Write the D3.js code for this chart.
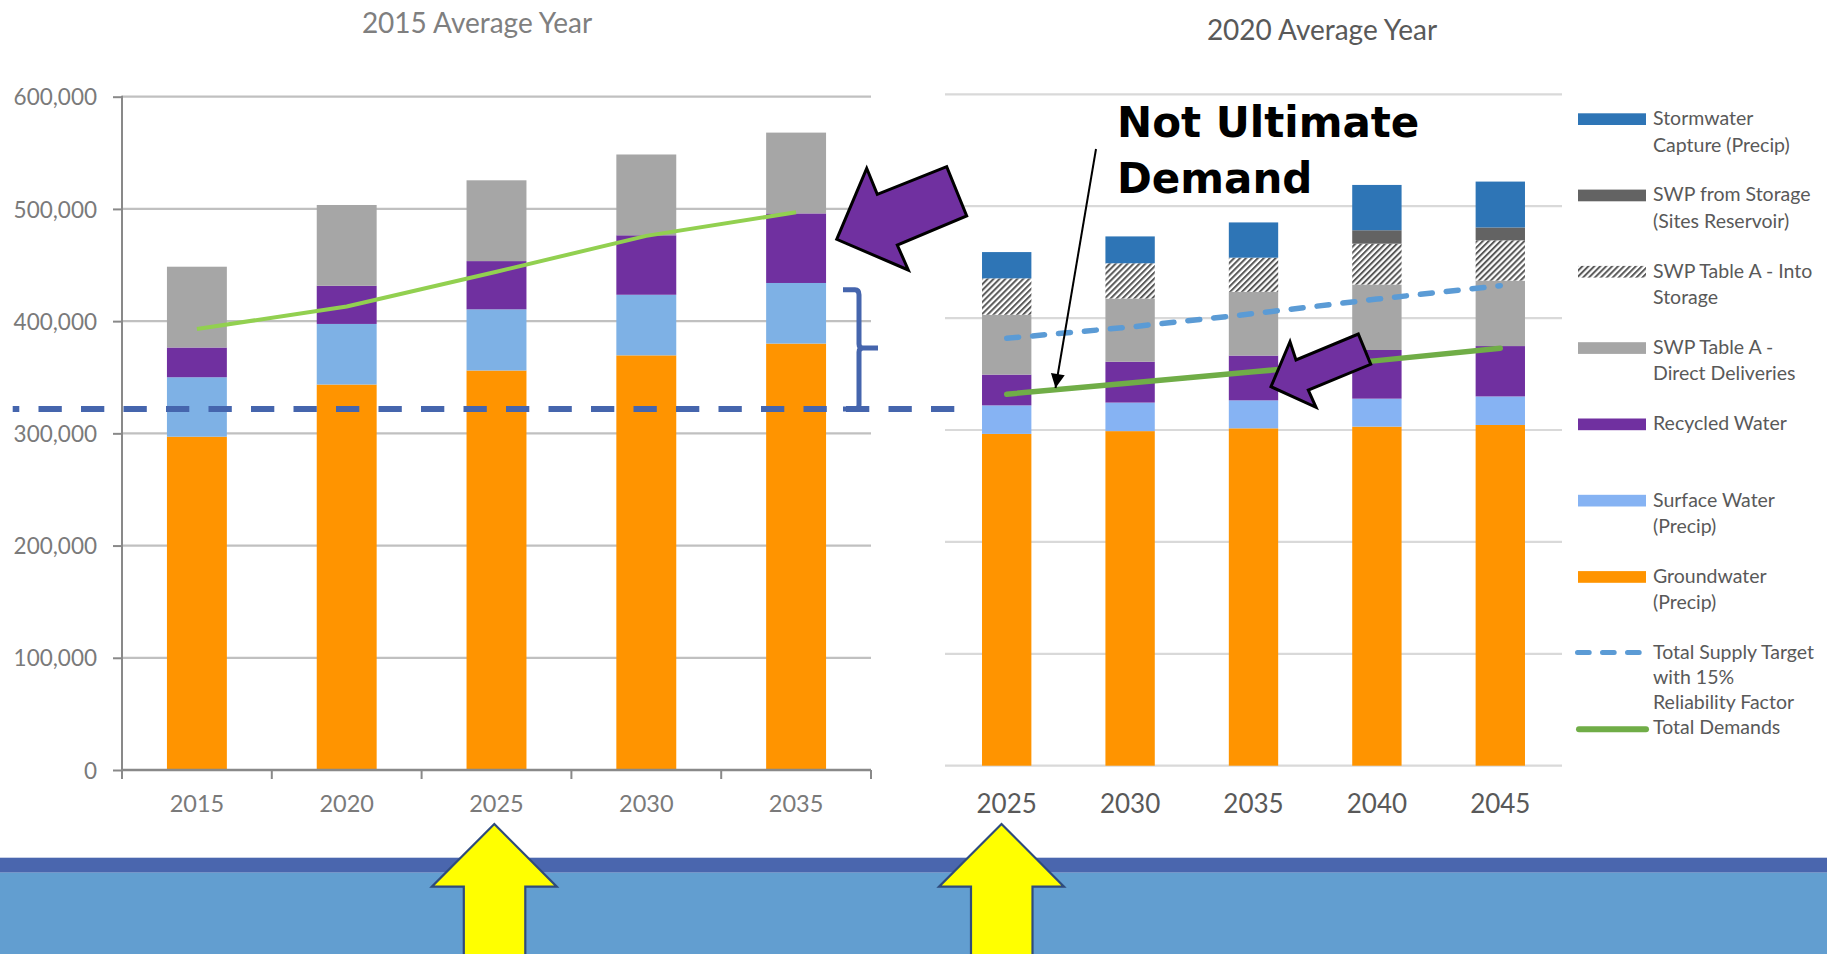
<!DOCTYPE html>
<html>
<head>
<meta charset="utf-8">
<script src="https://cdn.jsdelivr.net/npm/d3@7"></script>
<style>
  html, body { margin: 0; padding: 0; background: #ffffff; }
  svg { display: block; }
</style>
</head>
<body>
<svg id="chart" width="1827" height="954"></svg>
<script>
// ---------------- DATA ----------------
const years2015 = ["2015", "2020", "2025", "2030", "2035"];
const L_groundwater = [297000, 343500, 356000, 369500, 380000];
const L_surface     = [53000, 54000, 54500, 54000, 54000];
const L_recycled    = [26500, 34000, 43000, 53000, 62000];
const L_swpDirect   = [72000, 72000, 72000, 72000, 72000];
const L_demand      = [393000, 413000, 444000, 476000, 497000];
const L_reference   = 321600;   // dashed reference level

const years2020 = ["2025", "2030", "2035", "2040", "2045"];
const R_groundwater  = [296500, 299000, 301500, 303000, 304500];
const R_surface      = [25500, 25500, 25000, 25000, 25500];
const R_recycled     = [27500, 36500, 40000, 43500, 45000];
const R_swpDirect    = [53500, 56500, 57000, 58500, 58500];
const R_intoStorage  = [32500, 31500, 30500, 36500, 36000];
const R_fromStorage  = [0, 0, 0, 12000, 11500];
const R_stormwater   = [23500, 24000, 31500, 40500, 41000];
const R_supplyTarget = [382000, 392000, 404000, 417000, 429000];
const R_demand       = [332000, 342000, 352000, 362000, 373000];

const yTicks = [0, 100000, 200000, 300000, 400000, 500000, 600000];

const titleLeft = "2015 Average Year";
const titleRight = "2020 Average Year";
const noteLines = ["Not Ultimate", "Demand"];

const legendItems = [
  { lines: ["Stormwater", "Capture (Precip)"], type: "rect", key: "storm" },
  { lines: ["SWP from Storage", "(Sites Reservoir)"], type: "rect", key: "from" },
  { lines: ["SWP Table A - Into", "Storage"], type: "rect", key: "into" },
  { lines: ["SWP Table A -", "Direct Deliveries"], type: "rect", key: "direct" },
  { lines: ["Recycled Water"], type: "rect", key: "recycled" },
  { lines: ["Surface Water", "(Precip)"], type: "rect", key: "surface" },
  { lines: ["Groundwater", "(Precip)"], type: "rect", key: "ground" },
  { lines: ["Total Supply Target", "with 15%", "Reliability Factor"], type: "dash", key: "target" },
  { lines: ["Total Demands"], type: "line", key: "demand" }
];

// ---------------- STYLES ----------------
const colors = {
  ground: "#FF9400",
  surfaceL: "#7EB1E5",
  surface: "#86B3F3",
  recycled: "#7030A0",
  direct: "#A6A6A6",
  into: "url(#hatch)",
  from: "#636363",
  storm: "#2E75B6",
  demandL: "#92D050",
  demand: "#70AD47",
  target: "#5B9BD5"
};

const svg = d3.select("#chart");
const defs = svg.append("defs");
const pat = defs.append("pattern").attr("id", "hatch")
  .attr("width", 4.2).attr("height", 4.2)
  .attr("patternUnits", "userSpaceOnUse")
  .attr("patternTransform", "rotate(45)");
pat.append("rect").attr("width", 4.2).attr("height", 4.2).attr("fill", "#ffffff");
pat.append("line").attr("x1", 1).attr("y1", 0).attr("x2", 1).attr("y2", 4.2)
  .attr("stroke", "#595959").attr("stroke-width", 2);

defs.append("marker").attr("id", "blackHead")
  .attr("viewBox", "0 0 10 10").attr("refX", 10).attr("refY", 5)
  .attr("markerWidth", 8).attr("markerHeight", 7).attr("markerUnits", "strokeWidth")
  .attr("orient", "auto")
  .append("path").attr("d", "M0,0 L10,5 L0,10 Z").attr("fill", "#000");

const fontLeft = "Lato, 'Open Sans', sans-serif";
const fontHuman = "Lato, 'Open Sans', sans-serif";

// ---------------- LEFT CHART ----------------
const xL = d3.scaleBand().domain(years2015).range([122, 871]).paddingInner(0.6).paddingOuter(0.3);
const yL = d3.scaleLinear().domain([0, 600000]).range([770, 96.7]);

const gL = svg.append("g");
gL.selectAll("line.grid").data(yTicks.filter(d => d > 0)).join("line")
  .attr("x1", xL.range()[0]).attr("x2", xL.range()[1])
  .attr("y1", d => yL(d)).attr("y2", d => yL(d))
  .attr("stroke", "#C0C0C0").attr("stroke-width", 2.2);

const rowsL = years2015.map((y, i) => ({ year: y, ground: L_groundwater[i], surfaceL: L_surface[i], recycled: L_recycled[i], direct: L_swpDirect[i] }));
const stackL = d3.stack().keys(["ground", "surfaceL", "recycled", "direct"])(rowsL);
gL.selectAll("g.layer").data(stackL).join("g")
  .attr("fill", d => colors[d.key])
  .selectAll("rect").data(d => d).join("rect")
  .attr("x", d => xL(d.data.year)).attr("width", xL.bandwidth())
  .attr("y", d => yL(d[1])).attr("height", d => yL(d[0]) - yL(d[1]));

// y axis
const axL = gL.append("g").attr("transform", `translate(${xL.range()[0]},0)`)
  .call(d3.axisLeft(yL).tickValues(yTicks).tickFormat(d3.format(",")).tickSize(9).tickPadding(16));
axL.select(".domain").remove();
axL.selectAll(".tick line").attr("stroke", "#898989").attr("stroke-width", 2);
axL.selectAll(".tick text").attr("fill", "#7A7A7A").style("font-family", fontLeft).style("font-size", "22.5px").attr("dy", "0.36em");
gL.append("line").attr("x1", xL.range()[0]).attr("x2", xL.range()[0])
  .attr("y1", yL(600000) - 1).attr("y2", yL(0) + 9).attr("stroke", "#898989").attr("stroke-width", 2);

// x axis
gL.append("line").attr("x1", xL.range()[0]).attr("x2", xL.range()[1])
  .attr("y1", yL(0)).attr("y2", yL(0)).attr("stroke", "#898989").attr("stroke-width", 2.6);
gL.selectAll("line.xt").data(d3.range(years2015.length + 1)).join("line")
  .attr("x1", i => xL.range()[0] + i * xL.step()).attr("x2", i => xL.range()[0] + i * xL.step())
  .attr("y1", yL(0)).attr("y2", yL(0) + 9).attr("stroke", "#898989").attr("stroke-width", 2);
gL.selectAll("text.xl").data(years2015).join("text")
  .attr("x", d => xL(d) + xL.bandwidth() / 2).attr("y", 811.5)
  .attr("text-anchor", "middle").attr("fill", "#7A7A7A")
  .style("font-family", fontLeft).style("font-size", "23.5px").text(d => d);

// demand line
gL.append("path").datum(L_demand)
  .attr("fill", "none").attr("stroke", colors.demandL).attr("stroke-width", 4)
  .attr("d", d3.line().x((d, i) => xL(years2015[i]) + xL.bandwidth() / 2).y(d => yL(d)));

// title
svg.append("text").attr("x", 477).attr("y", 33).attr("text-anchor", "middle")
  .attr("fill", "#7F7F7F").style("font-family", fontLeft).style("font-size", "28px").text(titleLeft);

// ---------------- RIGHT CHART ----------------
const xR = d3.scaleBand().domain(years2020).range([945, 1562]).paddingInner(0.6).paddingOuter(0.3);
const yR = d3.scaleLinear().domain([0, 600000]).range([765.7, 94.3]);
const gR = svg.append("g");
gR.selectAll("line.grid").data(yTicks).join("line")
  .attr("x1", xR.range()[0]).attr("x2", xR.range()[1])
  .attr("y1", d => yR(d)).attr("y2", d => yR(d))
  .attr("stroke", "#D9D9D9").attr("stroke-width", 2.2);

const rowsR = years2020.map((y, i) => ({ year: y, ground: R_groundwater[i], surface: R_surface[i], recycled: R_recycled[i], direct: R_swpDirect[i], into: R_intoStorage[i], from: R_fromStorage[i], storm: R_stormwater[i] }));
const stackR = d3.stack().keys(["ground", "surface", "recycled", "direct", "into", "from", "storm"])(rowsR);
gR.selectAll("g.layer").data(stackR).join("g")
  .attr("fill", d => colors[d.key])
  .selectAll("rect").data(d => d).join("rect")
  .attr("x", d => xR(d.data.year)).attr("width", xR.bandwidth())
  .attr("y", d => yR(d[1])).attr("height", d => yR(d[0]) - yR(d[1]));

gR.selectAll("text.xl").data(years2020).join("text")
  .attr("x", d => xR(d) + xR.bandwidth() / 2).attr("y", 813)
  .attr("text-anchor", "middle").attr("fill", "#595959")
  .style("font-family", fontHuman).style("font-size", "26px").text(d => d);

const lineR = d3.line().x((d, i) => xR(years2020[i]) + xR.bandwidth() / 2).y(d => yR(d));
gR.append("path").datum(R_supplyTarget)
  .attr("fill", "none").attr("stroke", colors.target).attr("stroke-width", 5.5)
  .attr("stroke-linecap", "round").attr("stroke-dasharray", "12 14").attr("d", lineR);
gR.append("path").datum(R_demand)
  .attr("fill", "none").attr("stroke", colors.demand).attr("stroke-width", 5.5)
  .attr("stroke-linecap", "round").attr("d", lineR);

svg.append("text").attr("x", 1322).attr("y", 40).attr("text-anchor", "middle")
  .attr("fill", "#595959").style("font-family", fontHuman).style("font-size", "28px").text(titleRight);

// ---------------- LEGEND ----------------
const legend = svg.append("g");
const lx0 = 1578, lx1 = 1646, tx = 1653, lineGap = 26.5;
legendItems.forEach((it, i) => {
  const base = it.key === "demand" ? 734 : 125 + 76.3 * i;
  const g = legend.append("g");
  if (it.type === "rect") {
    g.append("rect").attr("x", lx0).attr("y", base - 11.7).attr("width", lx1 - lx0).attr("height", 11.7)
      .attr("fill", colors[it.key]);
  } else if (it.type === "dash") {
    g.append("line").attr("x1", lx0 - 0.5).attr("x2", lx1 + 2).attr("y1", base - 6.7).attr("y2", base - 6.7)
      .attr("stroke", colors.target).attr("stroke-width", 5).attr("stroke-linecap", "round")
      .attr("stroke-dasharray", "11.7 13.3");
  } else {
    g.append("line").attr("x1", lx0 + 1).attr("x2", lx1).attr("y1", base - 4.7).attr("y2", base - 4.7)
      .attr("stroke", colors.demand).attr("stroke-width", 6).attr("stroke-linecap", "round");
  }
  it.lines.forEach((t, j) => {
    g.append("text").attr("x", tx).attr("y", base + j * (it.type === "dash" ? 25 : lineGap))
      .attr("fill", "#595959").style("font-family", fontHuman).style("font-size", "19.5px").text(t);
  });
});

// ---------------- ANNOTATIONS ----------------
// dashed reference line
svg.append("line").attr("x1", 12.7).attr("x2", 955).attr("y1", yL(L_reference)).attr("y2", yL(L_reference))
  .attr("stroke", "#4565AD").attr("stroke-width", 6)
  .attr("stroke-dasharray", "23.3 19.2").attr("stroke-dashoffset", 16.7);

// brace
const bTop = yL(428000), bBot = yL(L_reference), bMid = yL(376000);
svg.append("path")
  .attr("d", `M843,${bTop} L855,${bTop} Q859,${bTop} 859,${bTop + 5} L859,${bMid - 4} Q859,${bMid} 863,${bMid} L878,${bMid} M863,${bMid} Q859,${bMid} 859,${bMid + 4} L859,${bBot - 4} Q859,${bBot} 855,${bBot} L843,${bBot}`)
  .attr("fill", "none").attr("stroke", "#4565AD").attr("stroke-width", 5);

// purple block arrows
const purpleArrows = [
  [[836.7, 239.3], [866.7, 168.3], [877.3, 194.3], [946.7, 166.7], [966.7, 216], [897.3, 245], [908.3, 270]],
  [[1271, 386.7], [1290, 341.7], [1296, 360], [1358.3, 334], [1370.7, 364.3], [1308.3, 390], [1316, 407.3]]
];
svg.selectAll("polygon.parrow").data(purpleArrows).join("polygon")
  .attr("points", d => d.map(p => p.join(",")).join(" "))
  .attr("fill", "#7030A0").attr("stroke", "#000").attr("stroke-width", 3).attr("stroke-linejoin", "miter");

// note text
svg.selectAll("text.note").data(noteLines).join("text")
  .attr("x", 1117).attr("y", (d, i) => 136.7 + i * 56)
  .attr("fill", "#000").style("font-family", "'DejaVu Sans', sans-serif").style("font-weight", "bold")
  .style("font-size", "42px").text(d => d);

// thin black arrow
svg.append("line").attr("x1", 1096).attr("y1", 149).attr("x2", 1055.5).attr("y2", 388)
  .attr("stroke", "#000").attr("stroke-width", 2).attr("marker-end", "url(#blackHead)");

// bottom bands
svg.append("rect").attr("x", 0).attr("y", 857.7).attr("width", 1827).attr("height", 15).attr("fill", "#4A66AE");
svg.append("rect").attr("x", 0).attr("y", 872.7).attr("width", 1827).attr("height", 82).attr("fill", "#629ED0");

// yellow arrows
function upArrow(cx) {
  return [[cx, 824], [cx + 62.5, 886.6], [cx + 31, 886.6], [cx + 31, 960], [cx - 30.5, 960], [cx - 30.5, 886.6], [cx - 62.5, 886.6]];
}
svg.selectAll("polygon.yarrow").data([upArrow(494.3), upArrow(1001.5)]).join("polygon")
  .attr("points", d => d.map(p => p.join(",")).join(" "))
  .attr("fill", "#FFFF00").attr("stroke", "#2F4B7C").attr("stroke-width", 2.2);
</script>
</body>
</html>
